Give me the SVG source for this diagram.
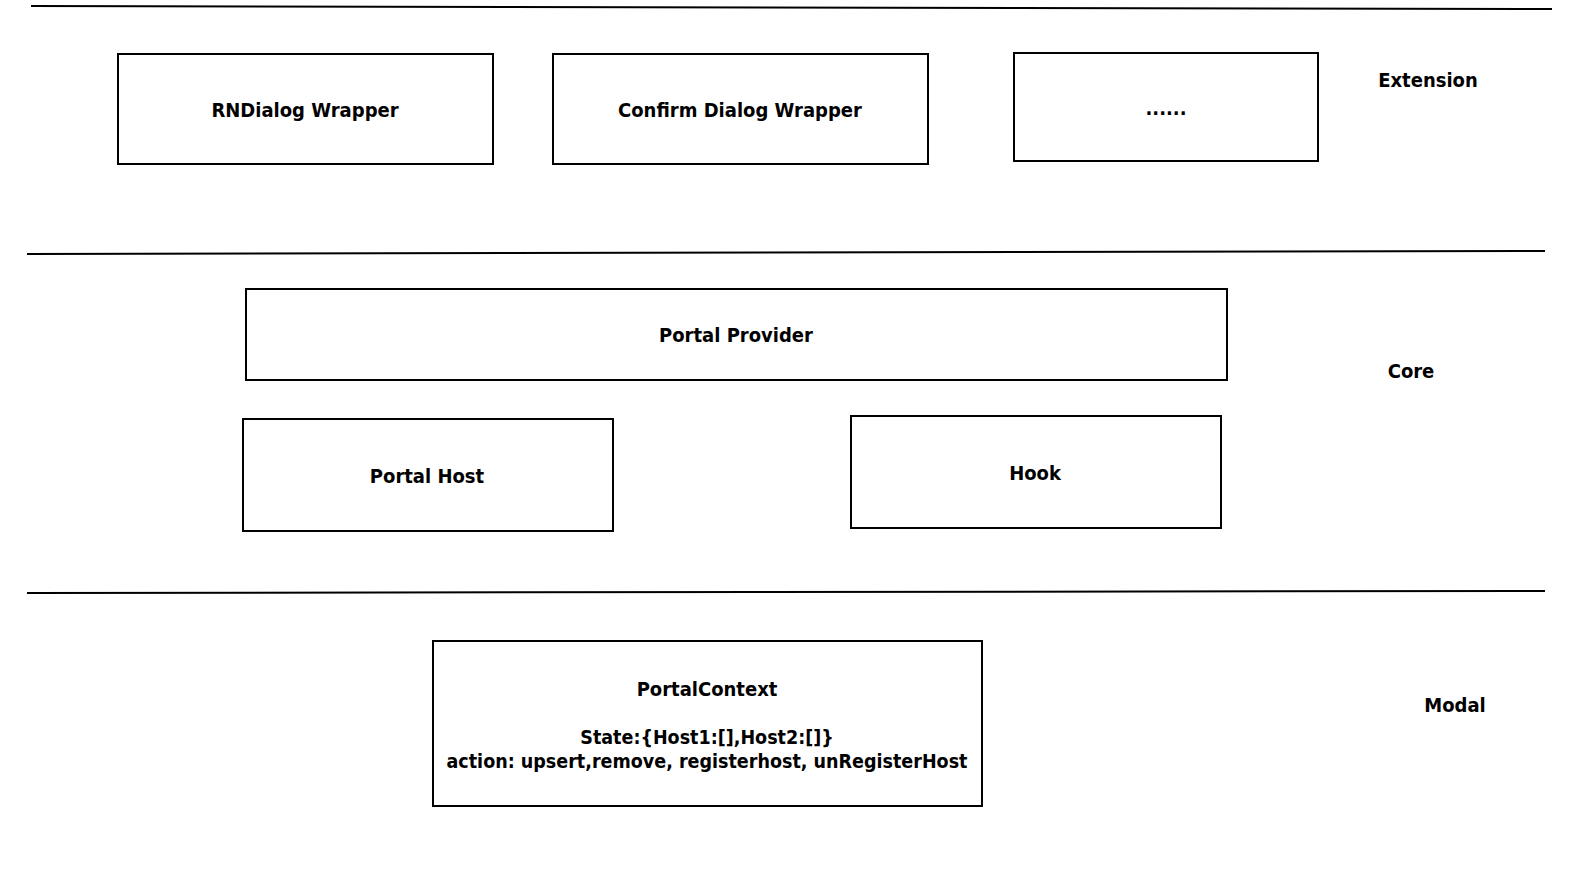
<svg xmlns="http://www.w3.org/2000/svg" width="1576" height="874" viewBox="0 0 1576 874">
<style>
.box{fill:#fff;stroke:#000;stroke-width:2}
.sep{stroke:#000;stroke-width:2;fill:none}
text{font-family:"DejaVu Sans Condensed","DejaVu Sans",sans-serif;font-weight:bold;font-size:20px;fill:#000;text-anchor:middle;dominant-baseline:central}
.sm{font-size:19.5px}
</style>
<rect width="1576" height="874" fill="#fff"/>
<g id="separators">
<line class="sep" x1="31" y1="6" x2="1552" y2="9"/>
<line class="sep" x1="27" y1="254" x2="1545" y2="251"/>
<line class="sep" x1="27" y1="593" x2="1545" y2="591"/>
</g>
<g id="layer-labels">
<text x="1428" y="80">Extension</text>
<text x="1411" y="371">Core</text>
<text x="1455" y="705">Modal</text>
</g>
<g id="rndialog"><rect class="box" x="118" y="54" width="375" height="110"/><text x="305" y="110">RNDialog Wrapper</text></g>
<g id="confirm"><rect class="box" x="553" y="54" width="375" height="110"/><text x="740" y="110">Confirm Dialog Wrapper</text></g>
<g id="more"><rect class="box" x="1014" y="53" width="304" height="108"/><text x="1166" y="108">......</text></g>
<g id="provider"><rect class="box" x="246" y="289" width="981" height="91"/><text x="736" y="335">Portal Provider</text></g>
<g id="host"><rect class="box" x="243" y="419" width="370" height="112"/><text x="427" y="476">Portal Host</text></g>
<g id="hook"><rect class="box" x="851" y="416" width="370" height="112"/><text x="1035" y="473">Hook</text></g>
<g id="context"><rect class="box" x="433" y="641" width="549" height="165"/>
<text x="707" y="689">PortalContext</text>
<text class="sm" x="707" y="737">State:{Host1:[],Host2:[]}</text>
<text class="sm" x="707" y="761">action: upsert,remove, registerhost, unRegisterHost</text>
</g>
<g id="connectors"></g>
</svg>
